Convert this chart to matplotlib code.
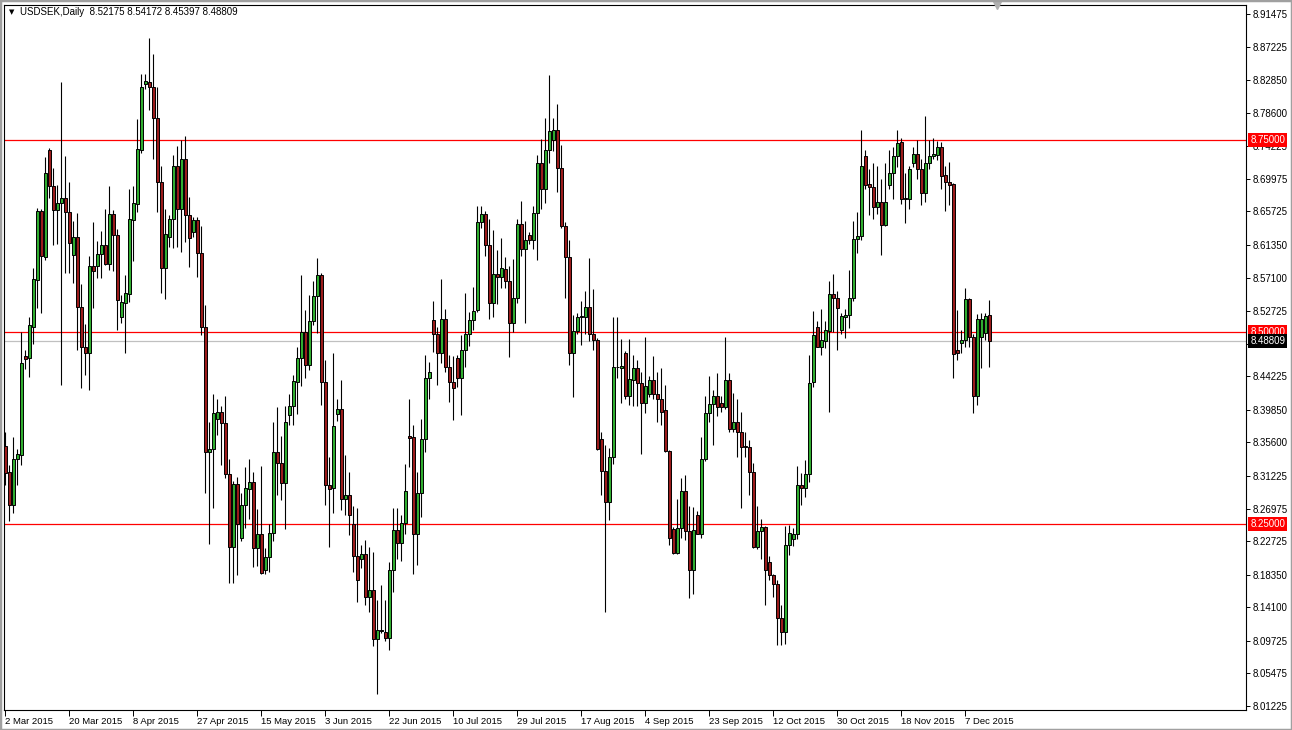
import matplotlib
matplotlib.use("Agg")
import matplotlib.pyplot as plt
import matplotlib.transforms as mtransforms
from matplotlib.patches import Rectangle
import numpy as np

plt.rcParams['font.family'] = ['Liberation Sans', 'DejaVu Sans']

# USDSEK daily bars (6 bars per week, Sunday bars included), 2 Mar 2015 .. 14 Dec 2015
opens = [
    8.351, 8.318, 8.275, 8.335, 8.339, 8.469, 8.466, 8.507, 8.568, 8.658,
    8.598, 8.737, 8.690, 8.659, 8.668, 8.675, 8.657, 8.600, 8.624, 8.532,
    8.480, 8.472, 8.586, 8.586, 8.602, 8.614, 8.589, 8.654, 8.627, 8.520,
    8.538, 8.550, 8.646, 8.667, 8.737, 8.824, 8.826, 8.820, 8.779, 8.695,
    8.583, 8.624, 8.647, 8.716, 8.661, 8.725, 8.653, 8.631, 8.646, 8.603,
    8.507, 8.343, 8.347, 8.387, 8.396, 8.381, 8.315, 8.219, 8.302, 8.232,
    8.274, 8.295, 8.305, 8.218, 8.236, 8.189, 8.206, 8.238, 8.343, 8.329,
    8.303, 8.392, 8.403, 8.435, 8.466, 8.500, 8.457, 8.515, 8.547, 8.574,
    8.435, 8.300, 8.296, 8.393, 8.399, 8.282, 8.287, 8.250, 8.208, 8.204,
    8.211, 8.155, 8.164, 8.099, 8.112, 8.109, 8.101, 8.190, 8.242, 8.225,
    8.251, 8.364, 8.363, 8.237, 8.290, 8.361, 8.440, 8.516, 8.498, 8.473,
    8.517, 8.455, 8.435, 8.466, 8.440, 8.477, 8.497, 8.516, 8.529, 8.644,
    8.654, 8.614, 8.538, 8.576, 8.572, 8.582, 8.566, 8.512, 8.545, 8.641,
    8.608, 8.627, 8.620, 8.655, 8.721, 8.687, 8.738, 8.751, 8.763, 8.714,
    8.638, 8.598, 8.473, 8.501, 8.521, 8.520, 8.532, 8.498, 8.490, 8.360,
    8.319, 8.278, 8.337, 8.454, 8.453, 8.473, 8.416, 8.438, 8.453, 8.433,
    8.407, 8.419, 8.438, 8.419, 8.413, 8.398, 8.345, 8.243, 8.212, 8.244,
    8.293, 8.240, 8.190, 8.261, 8.237, 8.335, 8.394, 8.406, 8.417, 8.408,
    8.402, 8.438, 8.373, 8.383, 8.369, 8.351, 8.350, 8.318, 8.220, 8.240,
    8.246, 8.200, 8.183, 8.172, 8.127, 8.109, 8.222, 8.230, 8.236, 8.300,
    8.296, 8.315, 8.435, 8.507, 8.481, 8.488, 8.501, 8.550, 8.545, 8.502,
    8.520, 8.522, 8.545, 8.621, 8.625, 8.729, 8.693, 8.689, 8.663, 8.670,
    8.640, 8.692, 8.707, 8.729, 8.748, 8.675, 8.673, 8.721, 8.732, 8.713,
    8.681, 8.720, 8.730, 8.731, 8.741, 8.705, 8.696, 8.693, 8.476, 8.486,
    8.490, 8.543, 8.493, 8.416, 8.493, 8.499, 8.52175,
]
highs = [
    8.370, 8.327, 8.363, 8.348, 8.500, 8.477, 8.519, 8.583, 8.662, 8.661,
    8.728, 8.740, 8.714, 8.692, 8.826, 8.729, 8.696, 8.645, 8.655, 8.562,
    8.511, 8.599, 8.643, 8.619, 8.632, 8.661, 8.690, 8.659, 8.635, 8.548,
    8.575, 8.686, 8.691, 8.778, 8.837, 8.836, 8.884, 8.863, 8.820, 8.716,
    8.661, 8.653, 8.731, 8.742, 8.750, 8.756, 8.676, 8.650, 8.650, 8.638,
    8.535, 8.383, 8.419, 8.413, 8.403, 8.417, 8.334, 8.306, 8.311, 8.290,
    8.324, 8.335, 8.317, 8.269, 8.325, 8.218, 8.250, 8.383, 8.402, 8.364,
    8.403, 8.419, 8.444, 8.480, 8.574, 8.529, 8.548, 8.567, 8.596, 8.577,
    8.463, 8.337, 8.472, 8.412, 8.437, 8.340, 8.317, 8.273, 8.271, 8.222,
    8.229, 8.220, 8.213, 8.151, 8.170, 8.151, 8.200, 8.271, 8.270, 8.261,
    8.328, 8.413, 8.379, 8.317, 8.387, 8.470, 8.461, 8.540, 8.507, 8.569,
    8.530, 8.470, 8.469, 8.470, 8.496, 8.551, 8.526, 8.559, 8.664, 8.664,
    8.658, 8.648, 8.633, 8.607, 8.622, 8.598, 8.586, 8.595, 8.648, 8.671,
    8.645, 8.631, 8.664, 8.731, 8.752, 8.779, 8.835, 8.779, 8.797, 8.744,
    8.643, 8.620, 8.522, 8.525, 8.540, 8.554, 8.596, 8.556, 8.492, 8.370,
    8.352, 8.349, 8.520, 8.520, 8.491, 8.475, 8.491, 8.470, 8.463, 8.448,
    8.493, 8.443, 8.469, 8.448, 8.453, 8.431, 8.346, 8.246, 8.282, 8.310,
    8.313, 8.273, 8.272, 8.267, 8.363, 8.416, 8.443, 8.425, 8.447, 8.416,
    8.494, 8.446, 8.420, 8.413, 8.396, 8.370, 8.359, 8.329, 8.273, 8.256,
    8.247, 8.208, 8.185, 8.177, 8.144, 8.247, 8.248, 8.244, 8.325, 8.316,
    8.333, 8.470, 8.527, 8.515, 8.530, 8.515, 8.566, 8.576, 8.553, 8.525,
    8.530, 8.581, 8.645, 8.656, 8.763, 8.737, 8.713, 8.720, 8.716, 8.699,
    8.720, 8.738, 8.741, 8.764, 8.753, 8.707, 8.716, 8.741, 8.751, 8.726,
    8.782, 8.750, 8.753, 8.749, 8.748, 8.716, 8.722, 8.694, 8.529, 8.503,
    8.557, 8.544, 8.498, 8.524, 8.525, 8.525, 8.54172,
]
lows = [
    8.300, 8.254, 8.264, 8.301, 8.326, 8.452, 8.441, 8.485, 8.531, 8.525,
    8.594, 8.675, 8.614, 8.615, 8.431, 8.577, 8.577, 8.564, 8.476, 8.427,
    8.444, 8.424, 8.531, 8.570, 8.571, 8.587, 8.581, 8.580, 8.503, 8.512,
    8.473, 8.539, 8.593, 8.657, 8.733, 8.817, 8.789, 8.726, 8.656, 8.551,
    8.543, 8.611, 8.610, 8.611, 8.605, 8.618, 8.585, 8.624, 8.572, 8.496,
    8.290, 8.224, 8.270, 8.366, 8.326, 8.309, 8.173, 8.173, 8.183, 8.228,
    8.245, 8.256, 8.194, 8.195, 8.184, 8.185, 8.187, 8.227, 8.287, 8.281,
    8.243, 8.379, 8.379, 8.393, 8.429, 8.440, 8.450, 8.509, 8.499, 8.405,
    8.274, 8.220, 8.264, 8.384, 8.268, 8.261, 8.235, 8.187, 8.148, 8.192,
    8.144, 8.135, 8.090, 8.028, 8.108, 8.097, 8.085, 8.161, 8.204, 8.202,
    8.237, 8.324, 8.184, 8.196, 8.259, 8.343, 8.413, 8.474, 8.431, 8.459,
    8.448, 8.409, 8.385, 8.428, 8.392, 8.454, 8.482, 8.503, 8.526, 8.636,
    8.599, 8.517, 8.519, 8.536, 8.558, 8.557, 8.468, 8.500, 8.538, 8.599,
    8.512, 8.615, 8.608, 8.594, 8.660, 8.668, 8.720, 8.736, 8.682, 8.636,
    8.545, 8.457, 8.415, 8.497, 8.483, 8.498, 8.488, 8.477, 8.346, 8.287,
    8.135, 8.255, 8.328, 8.440, 8.408, 8.412, 8.405, 8.404, 8.404, 8.341,
    8.395, 8.415, 8.413, 8.383, 8.379, 8.344, 8.222, 8.211, 8.210, 8.232,
    8.229, 8.153, 8.158, 8.237, 8.232, 8.332, 8.382, 8.353, 8.390, 8.396,
    8.399, 8.369, 8.369, 8.337, 8.271, 8.337, 8.287, 8.218, 8.217, 8.204,
    8.144, 8.177, 8.154, 8.092, 8.092, 8.093, 8.209, 8.221, 8.230, 8.274,
    8.285, 8.305, 8.428, 8.480, 8.470, 8.479, 8.396, 8.500, 8.477, 8.497,
    8.492, 8.505, 8.541, 8.603, 8.620, 8.687, 8.653, 8.648, 8.654, 8.600,
    8.638, 8.686, 8.673, 8.715, 8.667, 8.642, 8.660, 8.715, 8.699, 8.665,
    8.670, 8.712, 8.725, 8.724, 8.686, 8.658, 8.666, 8.440, 8.463, 8.472,
    8.480, 8.480, 8.395, 8.405, 8.453, 8.490, 8.45397,
]
closes = [
    8.316, 8.275, 8.335, 8.341, 8.459, 8.465, 8.509, 8.569, 8.658, 8.599,
    8.708, 8.690, 8.659, 8.668, 8.675, 8.657, 8.616, 8.624, 8.532, 8.480,
    8.472, 8.586, 8.580, 8.602, 8.614, 8.589, 8.654, 8.627, 8.542, 8.539,
    8.551, 8.647, 8.668, 8.739, 8.819, 8.827, 8.820, 8.779, 8.695, 8.583,
    8.628, 8.647, 8.716, 8.661, 8.725, 8.653, 8.622, 8.646, 8.603, 8.507,
    8.343, 8.347, 8.395, 8.396, 8.381, 8.315, 8.219, 8.302, 8.250, 8.274,
    8.296, 8.305, 8.218, 8.236, 8.186, 8.207, 8.238, 8.343, 8.329, 8.303,
    8.383, 8.404, 8.436, 8.466, 8.500, 8.457, 8.515, 8.547, 8.574, 8.435,
    8.300, 8.295, 8.377, 8.399, 8.282, 8.287, 8.261, 8.208, 8.177, 8.211,
    8.155, 8.164, 8.099, 8.112, 8.110, 8.101, 8.190, 8.242, 8.225, 8.251,
    8.293, 8.362, 8.237, 8.290, 8.361, 8.440, 8.448, 8.498, 8.473, 8.517,
    8.455, 8.435, 8.427, 8.440, 8.477, 8.497, 8.516, 8.528, 8.644, 8.654,
    8.614, 8.538, 8.576, 8.572, 8.584, 8.566, 8.512, 8.545, 8.641, 8.608,
    8.620, 8.620, 8.655, 8.721, 8.687, 8.738, 8.762, 8.763, 8.714, 8.638,
    8.598, 8.473, 8.501, 8.520, 8.520, 8.532, 8.498, 8.490, 8.347, 8.319,
    8.278, 8.337, 8.454, 8.455, 8.456, 8.416, 8.439, 8.453, 8.433, 8.407,
    8.430, 8.438, 8.419, 8.413, 8.396, 8.345, 8.232, 8.212, 8.244, 8.292,
    8.240, 8.190, 8.242, 8.237, 8.335, 8.394, 8.406, 8.417, 8.402, 8.402,
    8.438, 8.373, 8.383, 8.369, 8.350, 8.350, 8.318, 8.220, 8.240, 8.246,
    8.190, 8.183, 8.172, 8.127, 8.109, 8.222, 8.238, 8.236, 8.300, 8.296,
    8.315, 8.434, 8.496, 8.481, 8.489, 8.502, 8.550, 8.545, 8.531, 8.521,
    8.522, 8.545, 8.621, 8.625, 8.716, 8.692, 8.689, 8.663, 8.670, 8.640,
    8.670, 8.707, 8.729, 8.747, 8.674, 8.674, 8.712, 8.732, 8.713, 8.681,
    8.721, 8.730, 8.732, 8.741, 8.703, 8.695, 8.692, 8.471, 8.472, 8.490,
    8.543, 8.493, 8.416, 8.517, 8.517, 8.521, 8.48809,
]

date_labels = ['2 Mar 2015', '20 Mar 2015', '8 Apr 2015', '27 Apr 2015', '15 May 2015',
               '3 Jun 2015', '22 Jun 2015', '10 Jul 2015', '29 Jul 2015', '17 Aug 2015',
               '4 Sep 2015', '23 Sep 2015', '12 Oct 2015', '30 Oct 2015', '18 Nov 2015',
               '7 Dec 2015']
date_bars = [16 * i for i in range(len(date_labels))]

price_ticks = [8.91475, 8.87225, 8.82850, 8.78600, 8.74225, 8.69975, 8.65725, 8.61350,
               8.57100, 8.52725, 8.48475, 8.44225, 8.39850, 8.35600, 8.31225, 8.26975,
               8.22725, 8.18350, 8.14100, 8.09725, 8.05475, 8.01225]

level_lines = [8.75, 8.50, 8.25]
symbol = 'USDSEK,Daily'

o = np.array(opens)
h = np.array(highs)
l = np.array(lows)
c = np.array(closes)
idx = np.arange(len(o))
bid = c[-1]

W, H = 1292, 730
fig = plt.figure(figsize=(W / 100, H / 100), dpi=100)
fig.patch.set_facecolor('white')
ax = fig.add_axes([4 / W, 20 / H, 1242 / W, 705 / H])
ax.set_facecolor('white')

ax.set_xlim(-0.25, 310.25)
ax.set_ylim(8.00703, 8.92649)

# level lines and bid line
for lv in level_lines:
    ax.axhline(lv, color='#ff0000', lw=0.9, zorder=1)
ax.axhline(bid, color='#c0c0c0', lw=0.9, zorder=1)

# candles
up = c >= o
ax.vlines(idx, l, h, color='black', lw=0.8, zorder=2)
body_lo = np.minimum(o, c)
body_h = np.maximum(np.abs(c - o), 0.0006)
colors = np.where(up, '#30ad30', '#9b1b1b')
ax.bar(idx, body_h, bottom=body_lo, width=0.75, color=colors,
       edgecolor='black', linewidth=0.7, zorder=3)

# axes styling
for s in ax.spines.values():
    s.set_color('black')
    s.set_linewidth(0.8)

# the tick label under the bid price box is hidden, as in the terminal
bid_hidden = min(price_ticks, key=lambda v: abs(v - bid))
ax.yaxis.tick_right()
ax.set_yticks(price_ticks)
ax.set_yticklabels(['' if v == bid_hidden else f'{v:.5f}' for v in price_ticks])
ax.tick_params(axis='y', length=3, width=0.7, pad=2, labelsize=7, colors='black')

ax.set_xticks(date_bars)
ax.set_xticklabels(date_labels)
ax.tick_params(axis='x', length=4, width=0.7, pad=1, labelsize=6.8, colors='black')
for lab in ax.get_xticklabels():
    lab.set_horizontalalignment('left')

# price labels on the right
tr = mtransforms.blended_transform_factory(ax.transAxes, ax.transData)
for lv in level_lines:
    ax.text(1.0035, lv, f'{lv:.5f}', transform=tr, ha='left', va='center', fontsize=7,
            color='white', clip_on=False, zorder=10,
            bbox=dict(boxstyle='square,pad=0.2', fc='#ff0000', ec='none'))
ax.text(1.0035, bid, f'{bid:.5f}', transform=tr, ha='left', va='center', fontsize=7,
        color='white', clip_on=False, zorder=10,
        bbox=dict(boxstyle='square,pad=0.2', fc='black', ec='none'))

# chart shift marker
ax.plot([248], [1.0], marker='v', color='#b0b0b0', markersize=6,
        transform=mtransforms.blended_transform_factory(ax.transData, ax.transAxes),
        clip_on=False, zorder=10)

# header
fig.text(9 / W, 1 - 12 / H, '\u25bc', fontsize=5, family='DejaVu Sans', va='center')
fig.text(20 / W, 1 - 12 / H, f'{symbol}  {opens[-1]:.5f} {highs[-1]:.5f} {lows[-1]:.5f} {closes[-1]:.5f}',
         fontsize=7, va='center')

# window border
fig.patches.append(Rectangle((0, 0), 1, 1, transform=fig.transFigure, fill=False,
                             ec='#a0a0a0', lw=2.5))

fig.savefig('out.png', dpi=100)
plt.close(fig)
